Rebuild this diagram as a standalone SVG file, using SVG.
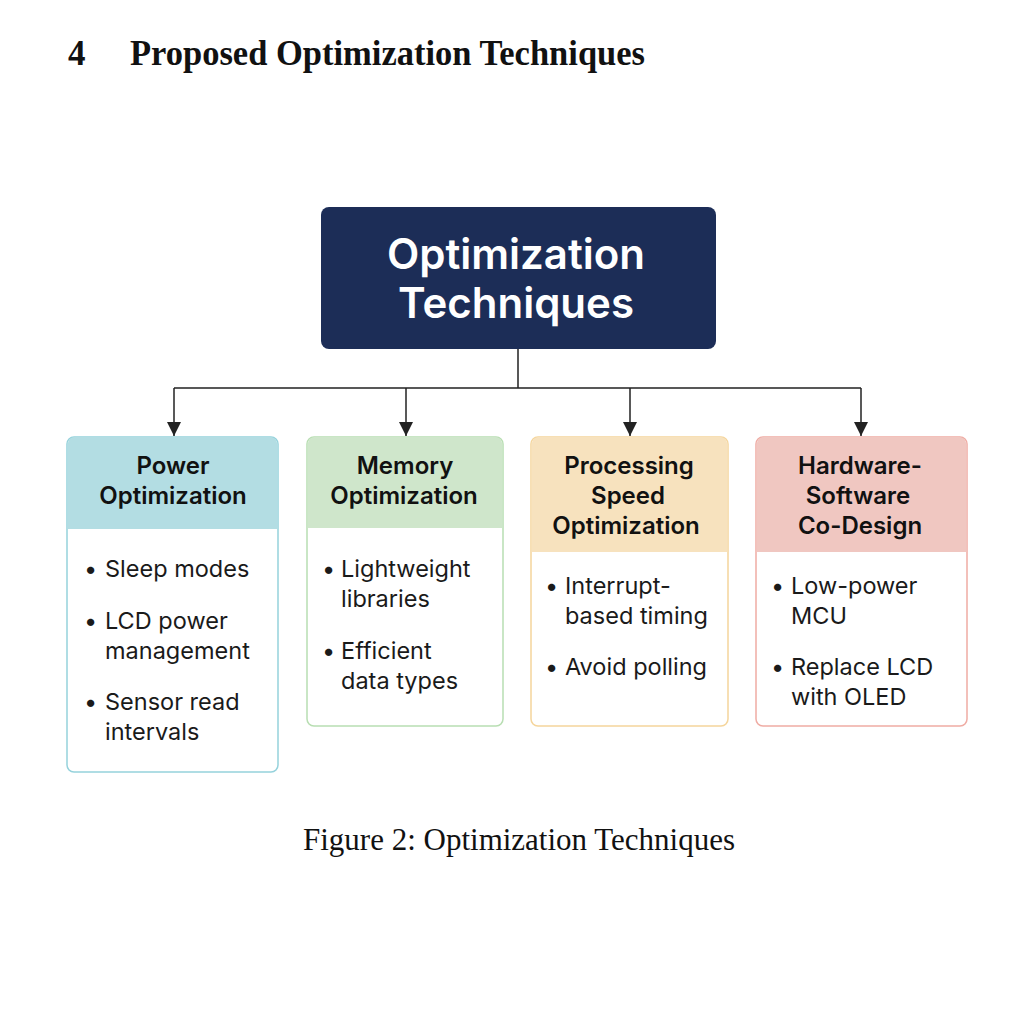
<svg xmlns="http://www.w3.org/2000/svg" width="1024" height="1024" viewBox="0 0 1024 1024">
<defs>
<style>
.serif{font-family:"Liberation Serif","Times New Roman",serif;fill:#111}
.rootT{font-family:Inter,"Liberation Sans",sans-serif;font-weight:600;font-size:42px;fill:#fff;text-anchor:middle}
.hd{font-family:Inter,"Liberation Sans",sans-serif;font-weight:600;font-size:24px;fill:#111;text-anchor:middle}
.it{font-family:Inter,"Liberation Sans",sans-serif;font-size:23.5px;fill:#1a1a1a}
.conn{stroke:#222;stroke-width:1.5;fill:none}
</style>
<marker id="arr" viewBox="0 0 14 14" refX="14" refY="7" markerWidth="14" markerHeight="14" markerUnits="userSpaceOnUse" orient="auto">
<path d="M0,0 L14,7 L0,14 z" fill="#222"/>
</marker>
</defs>
<rect width="1024" height="1024" fill="#fff"/>
<g id="title">
<text class="serif" x="68" y="65" font-size="35" font-weight="bold">4</text>
<text class="serif" x="130" y="65" font-size="35" font-weight="bold" textLength="515" lengthAdjust="spacingAndGlyphs">Proposed Optimization Techniques</text>
</g>
<g id="connectors">
<path class="conn" d="M518,349 V388 M174,388 H861"/>
<path class="conn" d="M174,388 V436" marker-end="url(#arr)"/>
<path class="conn" d="M406,388 V436" marker-end="url(#arr)"/>
<path class="conn" d="M630,388 V436" marker-end="url(#arr)"/>
<path class="conn" d="M861,388 V436" marker-end="url(#arr)"/>
</g>
<g id="root">
<rect x="321" y="207" width="395" height="142" rx="8" fill="#1c2d57"/>
<text class="rootT" x="516" y="269">Optimization</text>
<text class="rootT" x="516" y="318">Techniques</text>
</g>
<g id="power">
<rect x="67" y="437" width="211" height="335" rx="7" fill="#fff" stroke="#95d2dc" stroke-width="1.5"/>
<path d="M67.75,529 V444 a7,7 0 0 1 7,-7 H270.25 a7,7 0 0 1 7,7 V529 z" fill="#b3dde3"/>
<text class="hd" x="173" y="474">Power</text>
<text class="hd" x="173" y="504">Optimization</text>
<text class="it" x="84" y="577">•</text><text class="it" x="105" y="577">Sleep modes</text>
<text class="it" x="84" y="629">•</text><text class="it" x="105" y="629">LCD power</text>
<text class="it" x="105" y="659">management</text>
<text class="it" x="84" y="710">•</text><text class="it" x="105" y="710">Sensor read</text>
<text class="it" x="105" y="740">intervals</text>
</g>
<g id="memory">
<rect x="307" y="437" width="196" height="289" rx="7" fill="#fff" stroke="#b8deb2" stroke-width="1.5"/>
<path d="M307.75,528 V444 a7,7 0 0 1 7,-7 H495.25 a7,7 0 0 1 7,7 V528 z" fill="#cfe6cb"/>
<text class="hd" x="405" y="474">Memory</text>
<text class="hd" x="404" y="504">Optimization</text>
<text class="it" x="322" y="577">•</text><text class="it" x="341" y="577">Lightweight</text>
<text class="it" x="341" y="607">libraries</text>
<text class="it" x="322" y="659">•</text><text class="it" x="341" y="659">Efficient</text>
<text class="it" x="341" y="689">data types</text>
</g>
<g id="processing">
<rect x="531" y="437" width="197" height="289" rx="7" fill="#fff" stroke="#f5d59c" stroke-width="1.5"/>
<path d="M531.75,552 V444 a7,7 0 0 1 7,-7 H720.25 a7,7 0 0 1 7,7 V552 z" fill="#f7e2be"/>
<text class="hd" x="629" y="474">Processing</text>
<text class="hd" x="628" y="504">Speed</text>
<text class="hd" x="626" y="534">Optimization</text>
<text class="it" x="545" y="594">•</text><text class="it" x="565" y="594">Interrupt-</text>
<text class="it" x="565" y="624">based timing</text>
<text class="it" x="545" y="675">•</text><text class="it" x="565" y="675">Avoid polling</text>
</g>
<g id="hardware">
<rect x="756" y="437" width="211" height="289" rx="7" fill="#fff" stroke="#efaca4" stroke-width="1.5"/>
<path d="M756.75,552 V444 a7,7 0 0 1 7,-7 H959.25 a7,7 0 0 1 7,7 V552 z" fill="#f0c7c1"/>
<text class="hd" x="860" y="474">Hardware-</text>
<text class="hd" x="858" y="504">Software</text>
<text class="hd" x="860" y="534">Co-Design</text>
<text class="it" x="771" y="594">•</text><text class="it" x="791" y="594">Low-power</text>
<text class="it" x="791" y="624">MCU</text>
<text class="it" x="771" y="675">•</text><text class="it" x="791" y="675">Replace LCD</text>
<text class="it" x="791" y="705">with OLED</text>
</g>
<g id="caption">
<text class="serif" x="519" y="850" font-size="31" text-anchor="middle">Figure 2: Optimization Techniques</text>
</g>
</svg>
